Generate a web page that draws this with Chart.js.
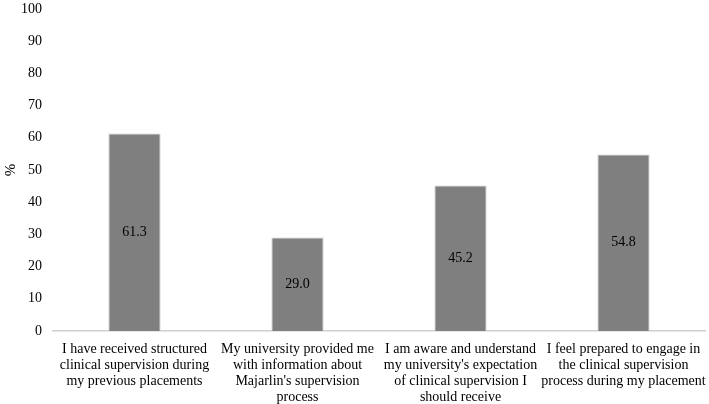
<!DOCTYPE html>
<html>
<head>
<meta charset="utf-8">
<script src="https://cdn.jsdelivr.net/npm/chart.js@4"></script>
<style>
  html, body { margin: 0; padding: 0; background: #fff; }
  #wrap { width: 709px; height: 404px; }
</style>
</head>
<body>
<div id="wrap"><canvas id="myChart"></canvas></div>
<script>
const categories = [
  ['I have received structured', 'clinical supervision during', 'my previous placements'],
  ['My university provided me', 'with information about', "Majarlin's supervision", 'process'],
  ['I am aware and understand', "my university's expectation", 'of clinical supervision I', 'should receive'],
  ['I feel prepared to engage in', 'the clinical supervision', 'process during my placement']
];
const percentValues = [61.3, 29.0, 45.2, 54.8];
const yTicks = [0, 10, 20, 30, 40, 50, 60, 70, 80, 90, 100];

const fontFamily = '"Liberation Serif", "Times New Roman", serif';

// draws the value in the middle of each bar
const valueLabels = {
  id: 'valueLabels',
  afterDatasetsDraw(chart) {
    const ctx = chart.ctx;
    const meta = chart.getDatasetMeta(0);
    ctx.save();
    ctx.font = '14px ' + fontFamily;
    ctx.fillStyle = '#000';
    ctx.textAlign = 'center';
    ctx.textBaseline = 'middle';
    meta.data.forEach((bar, i) => {
      const val = chart.data.datasets[0].data[i];
      ctx.fillText(val.toFixed(1), bar.x, (bar.y + bar.base) / 2);
    });
    ctx.restore();
  }
};

new Chart(document.getElementById('myChart'), {
  type: 'bar',
  data: {
    labels: categories,
    datasets: [{
      label: '%',
      data: percentValues,
      backgroundColor: '#7f7f7f',
      borderColor: '#c4c4c4',
      borderWidth: 1,
      barPercentage: 0.32,
      categoryPercentage: 1.0
    }]
  },
  options: {
    responsive: true,
    maintainAspectRatio: false,
    animation: false,
    layout: { padding: { top: 9, right: 4, left: 0, bottom: 0 } },
    plugins: {
      legend: { display: false },
      tooltip: { enabled: false }
    },
    scales: {
      x: {
        afterFit(axis) {
          axis.height = 73;
          axis.paddingLeft = 0;
          axis.paddingRight = 0;
        },
        grid: { display: false, drawTicks: false },
        border: { display: true, color: '#d0d0d0', width: 1.5 },
        ticks: {
          color: '#000',
          maxRotation: 0,
          autoSkip: false,
          padding: 10,
          font: { family: fontFamily, size: 14, lineHeight: 1.14 }
        }
      },
      y: {
        min: 0,
        max: 100,
        afterBuildTicks(axis) {
          axis.ticks = yTicks.map(v => ({ value: v }));
        },
        afterFit(axis) {
          axis.width = 53;
          axis.paddingTop = 0;
          axis.paddingBottom = 0;
        },
        grid: { display: false, drawTicks: false },
        border: { display: false },
        title: {
          display: true,
          text: '%',
          color: '#000',
          padding: { top: 2, bottom: 0 },
          font: { family: fontFamily, size: 15 }
        },
        ticks: {
          color: '#000',
          padding: 11,
          font: { family: fontFamily, size: 14 }
        }
      }
    }
  },
  plugins: [valueLabels]
});
</script>
</body>
</html>
